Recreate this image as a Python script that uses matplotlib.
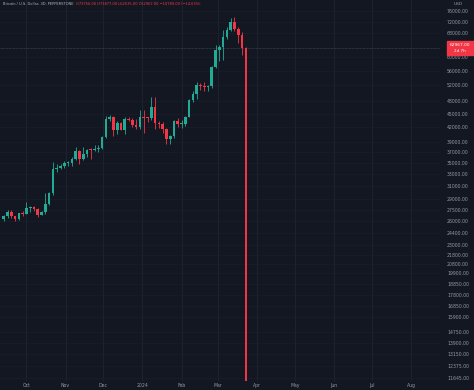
import pandas as pd
import matplotlib.pyplot as plt
from matplotlib.ticker import FixedLocator, NullLocator, FuncFormatter

# 3D candles, BTC/USD
opens = [26200, 26600, 27200, 26600, 26250, 27000, 26970, 27800, 27950, 27600,
         26800, 27150, 28400, 30000, 33900, 34100, 34500, 35000, 35000, 35600,
         37100, 35600, 36600, 37400, 37300, 37450, 37700, 39900, 43800, 44200,
         41300, 43000, 41400, 43700, 43600, 42500, 42100, 44200, 44100, 43900,
         46600, 42800, 42700, 41600, 39500, 40100, 43300, 42600, 42700, 44300,
         48300, 49700, 52100, 51800, 51700, 51800, 57000, 62400, 63200, 66500,
         68900, 72100, 69500, 67400, 63000]
highs = [26800, 27450, 27500, 26700, 27100, 27300, 28600, 28100, 28000, 27700,
         27300, 30000, 30200, 35200, 34800, 34800, 35300, 35300, 36000, 37900,
         37400, 37900, 37500, 37800, 38400, 38400, 40200, 44400, 44700, 44400,
         43400, 43100, 44200, 44300, 43900, 43800, 45900, 45900, 44300, 49000,
         48900, 43300, 43100, 41800, 40300, 43500, 43900, 43500, 44500, 48500,
         50400, 52800, 52600, 53000, 52000, 57500, 64000, 63900, 69000, 70200,
         73300, 73800, 70000, 68200, 63300]
lows = [26000, 26400, 26400, 26000, 26100, 26700, 26950, 27200, 27400, 26550,
        26750, 26900, 28200, 29700, 33400, 33900, 34000, 34500, 34500, 35500,
        34800, 35400, 36100, 35700, 37200, 36900, 37600, 39800, 43400, 40200,
        40600, 41300, 40600, 43300, 42100, 41500, 41600, 40800, 43200, 43600,
        41500, 41700, 40700, 38600, 38500, 39800, 42000, 41900, 42200, 44200,
        47700, 48400, 50700, 50600, 50500, 51300, 56700, 59000, 59300, 66000,
        68600, 68600, 64500, 60800, 9000]
closes = [26600, 27200, 26600, 26250, 27000, 26970, 27800, 27950, 27600, 26800,
          27150, 28400, 30000, 33900, 34100, 34500, 35000, 35000, 35600, 37100,
          35600, 36600, 37400, 37300, 37450, 37700, 39900, 43800, 44200, 41300,
          43000, 41400, 43700, 43600, 42500, 42100, 44200, 44100, 43900, 46600,
          42800, 42700, 41600, 39500, 40100, 43300, 42600, 42700, 44300, 48300,
          49700, 52100, 51800, 51700, 51800, 57000, 62400, 63200, 66500, 68900,
          72100, 69500, 67400, 63000, 10000]
dates = pd.date_range('2023-09-13', periods=len(opens), freq='3D')

price_ticks = [76000, 72000, 68000, 60000, 56000, 52000, 48000, 45000, 42000,
               39000, 37000, 35000, 33000, 31000, 29000, 27500, 26000, 24400,
               23000, 21800, 20800, 19900, 18850, 17800, 16850, 15900, 14750,
               13900, 13150, 12375, 11645]
month_starts = pd.date_range('2023-10-01', '2024-08-01', freq='MS')
month_labels = ['Oct', 'Nov', 'Dec', '2024', 'Feb', 'Mar', 'Apr', 'May', 'Jun', 'Jul', 'Aug']

last_price = 62967.0
TITLE = 'Bitcoin / U.S. Dollar, 3D, PEPPERSTONE'
OHLC_TEXT = 'O73756.00 H73877.00 L62535.00 C62967.00 \u221210789.00 (\u221214.63%)'

BG = '#131722'
GRID = '#1b1f2b'
TXT = '#9598a1'
UP = '#22ab94'
DOWN = '#f23645'

fig = plt.figure(figsize=(4.74, 3.90), dpi=100, facecolor=BG)
ax = fig.add_axes([0, 9 / 390, 440 / 474, 381 / 390])
ax.set_facecolor(BG)
for s in ax.spines.values():
    s.set_visible(False)

ax.set_yscale('log')
ax.set_ylim(11450, 80500)
ax.set_xlim(pd.Timestamp('2023-09-10'), pd.Timestamp('2024-08-24'))

# grid: vertical lines are visible, horizontal ones barely
for m in month_starts:
    ax.axvline(m, color='#1f2331', lw=0.7, zorder=0)
for p in price_ticks:
    ax.axhline(p, color=GRID, lw=0.5, zorder=0)

# candles
colors = [UP if c >= o else DOWN for o, c in zip(opens, closes)]
ax.vlines(dates, lows, highs, colors=colors, lw=0.6, zorder=2)
bottoms = [min(o, c) for o, c in zip(opens, closes)]
heights = [max(abs(c - o), min(o, c) * 0.005) for o, c in zip(opens, closes)]
ax.bar(dates, heights, bottom=bottoms, width=2.1, color=colors, lw=0, zorder=3)

# last price line
ax.axhline(last_price, color='#4a4e5a', lw=0.5, ls=(0, (1, 1)), zorder=1)

# axes ticks
ax.yaxis.tick_right()
ax.yaxis.set_major_locator(FixedLocator(price_ticks))
ax.yaxis.set_minor_locator(NullLocator())
ax.yaxis.set_major_formatter(FuncFormatter(lambda v, _: f'{v:.2f}'))
ax.set_xticks(month_starts)
ax.set_xticklabels(month_labels)
ax.tick_params(axis='y', length=0, pad=5, labelsize=3.3, labelcolor=TXT)
ax.tick_params(axis='x', length=0, pad=1.5, labelsize=3.3, labelcolor=TXT)

# price tag
tag_y = ax.transData.transform((0, last_price))[1] / fig.dpi / fig.get_figheight()
fig.patches.append(plt.Rectangle((447 / 474, tag_y - 7 / 390), 27 / 474, 14 / 390,
                                 transform=fig.transFigure, color=DOWN, zorder=5))
fig.text(460 / 474, tag_y + 2.5 / 390, f'{last_price:.2f}', color='white', fontsize=3.2,
         ha='center', va='center', zorder=6)
fig.text(460 / 474, tag_y - 3 / 390, '2d 7h', color='white', fontsize=3.0,
         ha='center', va='center', zorder=6)

fig.text(458 / 474, 1 - 4 / 390, 'USD', color=TXT, fontsize=3.2, ha='center', va='center')
fig.text(3 / 474, 1 - 4 / 390, TITLE, color='#b2b5be', fontsize=2.6, ha='left', va='center')
fig.text(76 / 474, 1 - 4 / 390, OHLC_TEXT, color=DOWN, fontsize=2.6, ha='left', va='center')

fig.savefig('out.png', dpi=100, facecolor=BG)
